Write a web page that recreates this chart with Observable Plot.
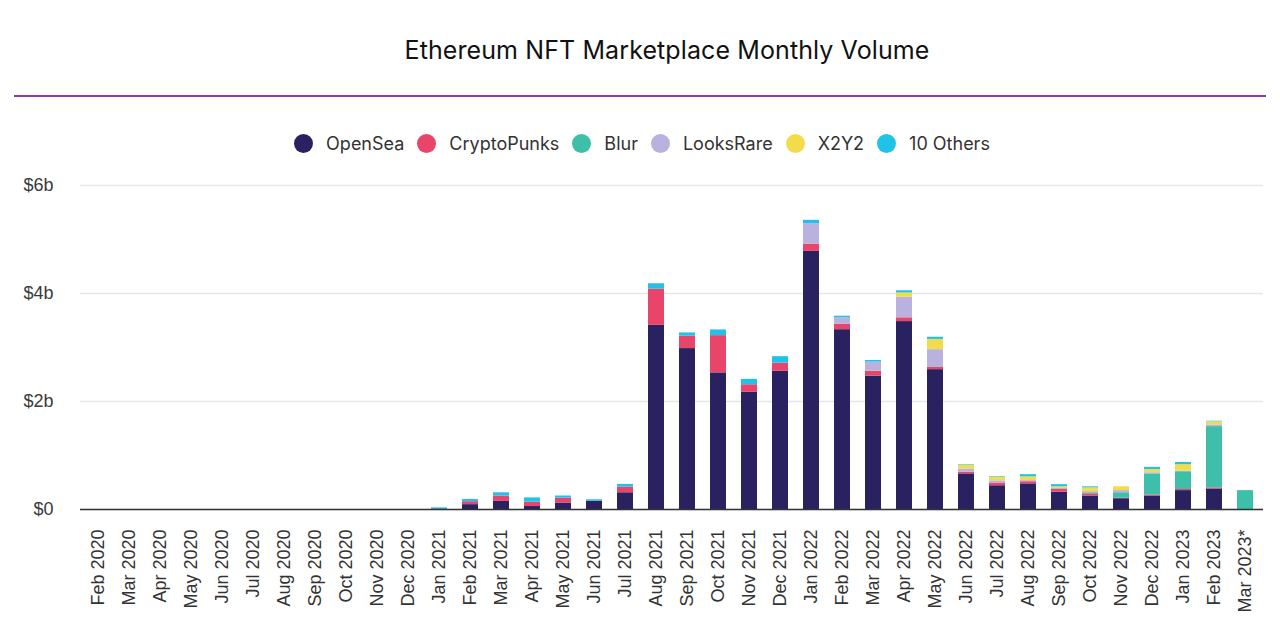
<!DOCTYPE html>
<html>
<head>
<meta charset="utf-8">
<script src="https://cdn.jsdelivr.net/npm/d3@7"></script>
<script src="https://cdn.jsdelivr.net/npm/@observablehq/plot@0.6"></script>
<style>
  html, body { margin: 0; padding: 0; background: #fff; }
  body { width: 1280px; height: 629px; position: relative; overflow: hidden; }
  #title { position: absolute; top: 35px; left: 27px; width: 1280px; text-align: center;
    font-family: Inter, "Noto Sans", sans-serif; font-size: 25px; color: #111; letter-spacing: 0.1px; }
  #rule { position: absolute; top: 95px; left: 14px; width: 1252px; height: 2px; background: #8b3aad; }
  #legend { position: absolute; top: 133px; left: 0; width: 1284px; display: flex; justify-content: center;
    font-family: Inter, "Noto Sans", sans-serif; font-size: 18px; color: #333; }
  .item { display: flex; align-items: center; margin: 0 6.5px; }
  .dot { width: 19px; height: 19px; border-radius: 50%; margin-right: 13px; }
  #chart { position: absolute; top: 170px; left: 0; }
</style>
</head>
<body>
<div id="title">Ethereum NFT Marketplace Monthly Volume</div>
<div id="rule"></div>
<div id="legend"></div>
<div id="chart"></div>
<script>
const months = ["Feb 2020","Mar 2020","Apr 2020","May 2020","Jun 2020","Jul 2020","Aug 2020","Sep 2020","Oct 2020","Nov 2020","Dec 2020",
  "Jan 2021","Feb 2021","Mar 2021","Apr 2021","May 2021","Jun 2021","Jul 2021","Aug 2021","Sep 2021","Oct 2021","Nov 2021","Dec 2021",
  "Jan 2022","Feb 2022","Mar 2022","Apr 2022","May 2022","Jun 2022","Jul 2022","Aug 2022","Sep 2022","Oct 2022","Nov 2022","Dec 2022",
  "Jan 2023","Feb 2023","Mar 2023*"];

const seriesNames = ["OpenSea","CryptoPunks","Blur","LooksRare","X2Y2","10 Others"];
const seriesColors = ["#2a2160","#e9456a","#3dbfa9","#b9b2de","#f3dc4b","#1fc3e8"];

// values in $ billions, Feb 2020 .. Mar 2023*
const openSea =     [0,0,0,0,0,0,0,0,0,0,0, 0.01,0.09,0.15,0.055,0.12,0.155,0.31,3.41,2.98,2.53,2.17,2.56, 4.78,3.33,2.47,3.48,2.59,0.66,0.44,0.475,0.32,0.25,0.20,0.25, 0.35,0.38,0];
const cryptoPunks = [0,0,0,0,0,0,0,0,0,0,0, 0,0.055,0.10,0.08,0.09,0,0.105,0.67,0.23,0.69,0.14,0.15, 0.135,0.10,0.09,0.07,0.04,0.03,0.05,0.04,0.05,0.04,0.01,0.02, 0.02,0.02,0];
const blur =        [0,0,0,0,0,0,0,0,0,0,0, 0,0,0,0,0,0,0,0,0,0,0,0, 0,0,0,0,0,0,0,0,0,0.02,0.10,0.39, 0.33,1.135,0.35];
const looksRare =   [0,0,0,0,0,0,0,0,0,0,0, 0,0,0,0,0,0,0,0,0,0,0,0, 0.38,0.12,0.17,0.38,0.33,0.06,0.04,0.02,0.02,0.02,0.04,0.02, 0.01,0.03,0];
const x2y2 =        [0,0,0,0,0,0,0,0,0,0,0, 0,0,0,0,0,0,0,0,0,0,0,0, 0,0,0,0.08,0.19,0.07,0.07,0.07,0.03,0.07,0.07,0.06, 0.12,0.06,0];
const others =      [0,0,0,0,0,0,0,0,0,0,0, 0.02,0.04,0.06,0.08,0.04,0.025,0.05,0.10,0.06,0.105,0.10,0.12, 0.06,0.03,0.03,0.04,0.04,0.01,0.01,0.04,0.04,0.02,0,0.04, 0.04,0.01,0];

const yTicks = [0, 2, 4, 6];
const yTickLabels = ["$0", "$2b", "$4b", "$6b"];

const seriesValues = [openSea, cryptoPunks, blur, looksRare, x2y2, others];
const table = seriesNames.flatMap((name, s) =>
  months.map((m, i) => ({month: m, series: name, value: seriesValues[s][i]})));

// legend
const legend = document.getElementById("legend");
seriesNames.forEach((name, i) => {
  const item = document.createElement("div");
  item.className = "item";
  const dot = document.createElement("div");
  dot.className = "dot";
  dot.style.background = seriesColors[i];
  const label = document.createElement("span");
  label.textContent = name;
  item.appendChild(dot);
  item.appendChild(label);
  legend.appendChild(item);
});

const chart = Plot.plot({
  width: 1280,
  height: 459,
  marginTop: 15,
  marginBottom: 120,
  marginLeft: 80,
  marginRight: 17,
  style: {fontFamily: "'Liberation Sans', Arial, sans-serif", fontSize: "18px", color: "#333", background: "transparent"},
  x: {domain: months, paddingInner: 0.5, paddingOuter: 0.2, label: null},
  y: {domain: [0, 6], label: null},
  color: {domain: seriesNames, range: seriesColors},
  marks: [
    Plot.gridY(yTicks, {stroke: "#e6e6e6", strokeOpacity: 1, strokeWidth: 1.5}),
    Plot.axisY(yTicks, {tickSize: 0, tickPadding: 27, tickFormat: (d) => yTickLabels[yTicks.indexOf(d)], fontSize: 18, fill: "#3a3a3a", label: null}),
    Plot.axisX({tickSize: 0, tickPadding: 20, tickRotate: -90, fontSize: 18, fill: "#333", label: null}),
    Plot.barY(table, Plot.stackY({x: "month", y: "value", fill: "series", order: seriesNames})),
    Plot.ruleY([0], {stroke: "#333", strokeWidth: 1.5})
  ]
});
document.getElementById("chart").appendChild(chart);
</script>
</body>
</html>
